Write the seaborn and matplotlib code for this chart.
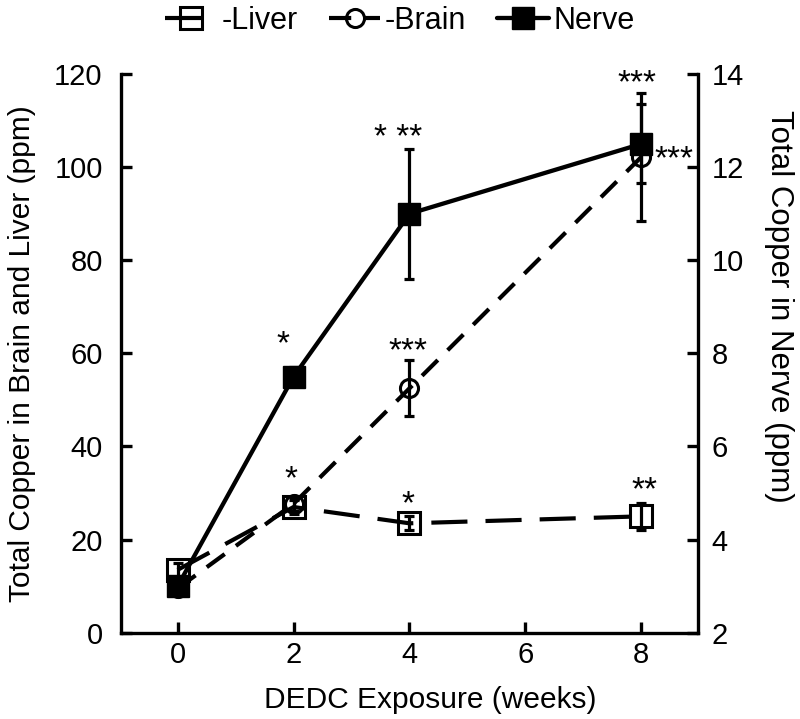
import matplotlib
matplotlib.use("Agg")
import matplotlib.pyplot as plt
import seaborn as sns
import numpy as np

# ---- data ----
weeks = [0, 2, 4, 8]
liver = [13.5, 27.0, 23.5, 25.0]
liver_err = [1.5, 1.5, 1.5, 2.9]
brain = [9.5, 27.7, 52.5, 102.2]
brain_err = [1.0, 1.5, 6.0, 13.7]
nerve = [3.0, 7.5, 11.0, 12.5]
nerve_err = [0.1, 0.2, 1.4, 0.85]

x_ticks = [0, 2, 4, 6, 8]
left_ticks = [0, 20, 40, 60, 80, 100, 120]
right_ticks = [2, 4, 6, 8, 10, 12, 14]

# significance marks: (x, y centre on left axis, text)
stars_x = [1.81, 1.95, 3.81, 3.97, 3.97, 7.93, 8.57, 8.05]
stars_y = [63.0, 34.2, 107.5, 61.5, 28.8, 119.1, 102.8, 31.8]
stars_t = ["*", "*", "* **", "***", "*", "***", "***", "**"]

sns.set_theme(style="ticks")
plt.rcParams['font.family'] = ['Liberation Sans', 'DejaVu Sans']
plt.rcParams['lines.scale_dashes'] = False
plt.rcParams['text.color'] = 'black'
plt.rcParams['axes.labelcolor'] = 'black'

fig = plt.figure(figsize=(8, 7.19), dpi=100)
ax = fig.add_axes([0.151, 0.12, 0.721, 0.777])
ax2 = ax.twinx()

lw = 3.0
# Liver
sns.lineplot(x=weeks, y=liver, ax=ax, color="black", linewidth=lw,
             marker="s", markersize=15.5, label="-Liver", legend=False)
l_liver = ax.lines[-1]
l_liver.set_dashes((26, 13))
l_liver.set_markerfacecolor("none")
l_liver.set_markeredgecolor("black")
l_liver.set_markeredgewidth(2.2)
ax.errorbar(weeks, liver, yerr=liver_err, fmt="none", ecolor="black",
            elinewidth=2.3, capsize=3.5, capthick=2.3)

# Brain
sns.lineplot(x=weeks, y=brain, ax=ax, color="black", linewidth=lw,
             marker="o", markersize=13, label="-Brain", legend=False)
l_brain = ax.lines[-1]
l_brain.set_dashes((16, 10))
l_brain.set_markerfacecolor("none")
l_brain.set_markeredgecolor("black")
l_brain.set_markeredgewidth(2.2)
ax.errorbar(weeks, brain, yerr=brain_err, fmt="none", ecolor="black",
            elinewidth=2.3, capsize=3.5, capthick=2.3)

# Nerve (right axis)
sns.lineplot(x=weeks, y=nerve, ax=ax2, color="black", linewidth=3.1,
             marker="s", markersize=16, label="Nerve", legend=False)
l_nerve = ax2.lines[-1]
l_nerve.set_markerfacecolor("black")
l_nerve.set_markeredgecolor("black")
l_nerve.set_markeredgewidth(1.0)
ax2.errorbar(weeks, nerve, yerr=nerve_err, fmt="none", ecolor="black",
             elinewidth=2.3, capsize=3.5, capthick=2.3)

# stars (glyph centre placed on the given y)
star_fs = 24
for sx, sy, st in zip(stars_x, stars_y, stars_t):
    ax.annotate(st, (sx, sy), xytext=(0, -0.43 * star_fs), textcoords="offset points",
                ha="center", va="baseline", fontsize=star_fs, color="black")

# axes
ax.set_xlim(-0.98, 8.97)
ax.set_ylim(0, 120)
ax2.set_ylim(2, 14)
ax.set_xticks(x_ticks)
ax.set_yticks(left_ticks)
ax2.set_yticks(right_ticks)

for a in (ax, ax2):
    a.spines["top"].set_visible(False)
    for s in a.spines.values():
        s.set_linewidth(2.4)
        s.set_color("black")
ax.spines["right"].set_visible(False)
ax2.spines["left"].set_visible(False)
ax2.spines["bottom"].set_visible(False)

ax.tick_params(axis="both", direction="in", length=8, width=2.4, colors="black",
               labelsize=21)
ax.tick_params(axis="y", pad=13)
ax.tick_params(axis="x", pad=6)
ax2.tick_params(axis="y", direction="in", length=8, width=2.4, colors="black",
                labelsize=21, pad=10)

ax.set_xlabel("DEDC Exposure (weeks)", fontsize=21.5, labelpad=12)
ax.xaxis.label.set_x(0.536)
ax.set_ylabel("Total Copper in Brain and Liver (ppm)", fontsize=21.5, labelpad=13)
ax2.set_ylabel("Total Copper in Nerve (ppm)", fontsize=22.5, rotation=270, labelpad=36)
ax2.yaxis.label.set_y(0.585)

handles = [l_liver, l_brain, l_nerve]
labels = ["-Liver", "-Brain", "Nerve"]
fig.legend(handles, labels, loc="upper center", bbox_to_anchor=(0.5, 1.03), ncol=3,
           frameon=False, fontsize=22, handlelength=1.7, handletextpad=0.15,
           columnspacing=1.0)

fig.savefig("out.png", dpi=100)
